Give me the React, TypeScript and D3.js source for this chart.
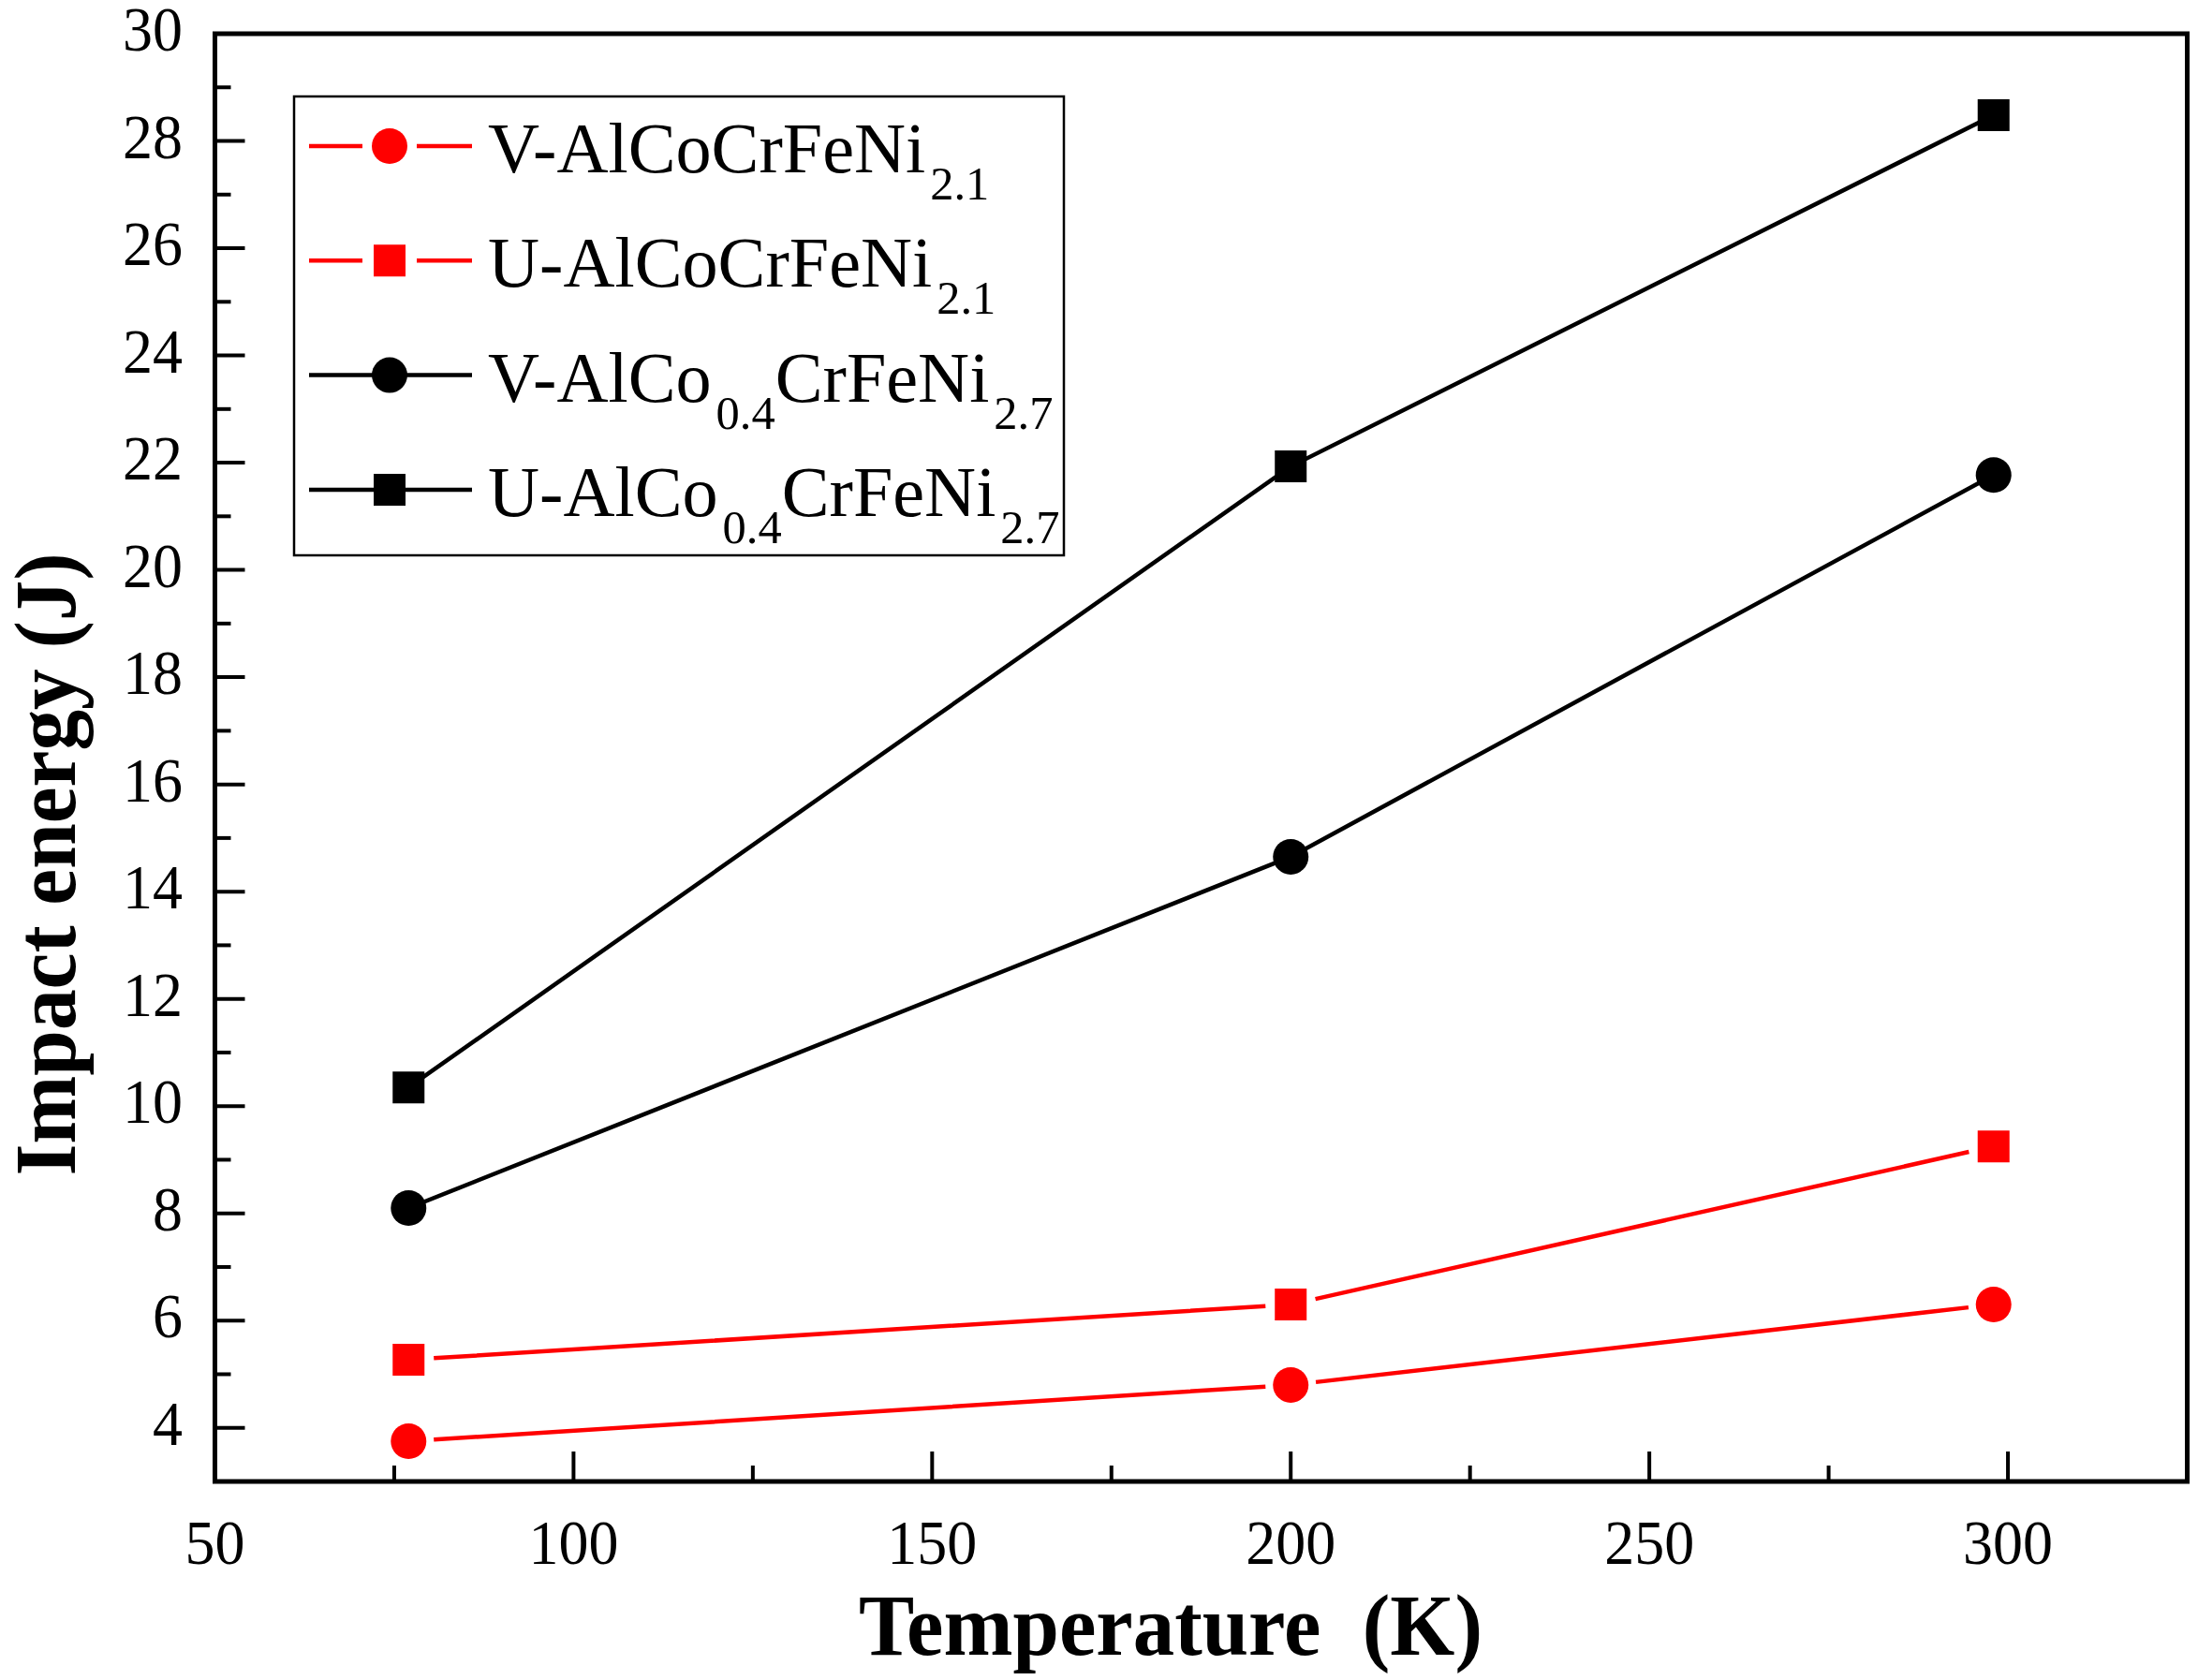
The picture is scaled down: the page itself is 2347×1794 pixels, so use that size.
import React from 'react';
import * as d3 from 'd3';

// ---------- data ----------
const temperatures = [77, 200, 298];
const vAlCoCrFeNi21 = [3.75, 4.8, 6.3];
const uAlCoCrFeNi21 = [5.27, 6.3, 9.25];
const vAlCo04CrFeNi27 = [8.1, 14.65, 21.77];
const uAlCo04CrFeNi27 = [10.35, 21.93, 28.48];

const xTickValues = [50, 100, 150, 200, 250, 300];
const xMinorTicks = [75, 125, 175, 225, 275];
const yTickValues = [4, 6, 8, 10, 12, 14, 16, 18, 20, 22, 24, 26, 28, 30];
const yMinorTicks = [5, 7, 9, 11, 13, 15, 17, 19, 21, 23, 25, 27, 29];

const xTitle = 'Temperature  (K)';
const yTitle = 'Impact energy (J)';

type Part = [string, boolean];
const labelV21: Part[] = [['V-AlCoCrFeNi', false], ['2.1', true]];
const labelU21: Part[] = [['U-AlCoCrFeNi', false], ['2.1', true]];
const labelV27: Part[] = [['V-AlCo', false], ['0.4', true], ['CrFeNi', false], ['2.7', true]];
const labelU27: Part[] = [['U-AlCo', false], ['0.4', true], ['CrFeNi', false], ['2.7', true]];

interface Series {
  values: number[];
  color: string;
  symbol: d3.SymbolType;
  size: number;
  gap: number;
  label: Part[];
}

const series: Series[] = [
  { values: vAlCoCrFeNi21, color: '#ff0000', symbol: d3.symbolCircle, size: 1134, gap: 27, label: labelV21 },
  { values: uAlCoCrFeNi21, color: '#ff0000', symbol: d3.symbolSquare, size: 1156, gap: 27, label: labelU21 },
  { values: vAlCo04CrFeNi27, color: '#000000', symbol: d3.symbolCircle, size: 1134, gap: 0, label: labelV27 },
  { values: uAlCo04CrFeNi27, color: '#000000', symbol: d3.symbolSquare, size: 1156, gap: 0, label: labelU27 },
];

// ---------- layout ----------
const W = 2347;
const H = 1794;
const FONT = '"Liberation Serif", "Times New Roman", Times, serif';

const x = d3.scaleLinear().domain([50, 325]).range([229.5, 2335.5]);
const y = d3.scaleLinear().domain([3, 30]).range([1582, 36]);

const MAJOR = 32;
const MINOR = 17;

function segmentsWithGap(pts: [number, number][], gap: number): string {
  let d = '';
  if (gap === 0) {
    return d3.line()(pts) || '';
  }
  for (let i = 0; i < pts.length - 1; i++) {
    const [x0, y0] = pts[i];
    const [x1, y1] = pts[i + 1];
    const len = Math.hypot(x1 - x0, y1 - y0);
    const ux = (x1 - x0) / len;
    const uy = (y1 - y0) / len;
    d += `M${x0 + ux * gap},${y0 + uy * gap}L${x1 - ux * gap},${y1 - uy * gap}`;
  }
  return d;
}

function Txt(props: {
  x: number; y: number; rot?: number; k: number; size: number; bold?: boolean;
  anchor?: 'start' | 'middle' | 'end'; children: React.ReactNode;
}) {
  const { x: tx, y: ty, rot = 0, k, size, bold, anchor = 'start', children } = props;
  return (
    <text
      transform={`translate(${tx},${ty}) rotate(${rot}) scale(${k},1)`}
      fontFamily={FONT}
      fontSize={size}
      fontWeight={bold ? 'bold' : 'normal'}
      textAnchor={anchor}
      fill="#000"
      style={{ whiteSpace: 'pre' }}
    >
      {children}
    </text>
  );
}

export default function App() {
  const legendX = 314;
  const legendY = 103;
  const legendW = 822;
  const legendH = 490;
  const rowY0 = 156;
  const rowStep = 122.3;
  const lineX0 = 330;
  const lineX1 = 504;
  const markX = 416;
  const textX = 521;
  const SUB = 29;

  return (
    <div style={{ position: 'absolute', left: 0, top: 0, width: W, height: H, background: '#fff' }}>
      <svg width={W} height={H} viewBox={`0 0 ${W} ${H}`}>
        <rect x={0} y={0} width={W} height={H} fill="#fff" />

        {/* ticks */}
        <g stroke="#000" strokeWidth={4}>
          {yTickValues.map((v) => (
            <line key={'ym' + v} x1={x(50)} x2={x(50) + MAJOR} y1={y(v)} y2={y(v)} />
          ))}
          {yMinorTicks.map((v) => (
            <line key={'yn' + v} x1={x(50)} x2={x(50) + MINOR} y1={y(v)} y2={y(v)} />
          ))}
          {xTickValues.map((v) => (
            <line key={'xm' + v} x1={x(v)} x2={x(v)} y1={y(3)} y2={y(3) - MAJOR} />
          ))}
          {xMinorTicks.map((v) => (
            <line key={'xn' + v} x1={x(v)} x2={x(v)} y1={y(3)} y2={y(3) - MINOR} />
          ))}
        </g>

        {/* frame */}
        <rect
          x={x(50)}
          y={y(30)}
          width={x(325) - x(50)}
          height={y(3) - y(30)}
          fill="none"
          stroke="#000"
          strokeWidth={5}
        />

        {/* tick labels */}
        {yTickValues.map((v) => (
          <Txt key={'yl' + v} x={195} y={y(v) + 18} k={0.955} size={67} anchor="end">
            {String(v)}
          </Txt>
        ))}
        {xTickValues.map((v) => (
          <Txt key={'xl' + v} x={x(v)} y={1670} k={0.955} size={67} anchor="middle">
            {String(v)}
          </Txt>
        ))}

        {/* axis titles */}
        <Txt x={1250} y={1767} k={0.955} size={93} bold anchor="middle">
          {xTitle}
        </Txt>
        <Txt x={80} y={923} rot={-90} k={0.94} size={93} bold anchor="middle">
          {yTitle}
        </Txt>

        {/* data */}
        {series.map((s, i) => {
          const pts: [number, number][] = s.values.map((v, j) => [x(temperatures[j]), y(v)]);
          return (
            <g key={'s' + i}>
              <path d={segmentsWithGap(pts, s.gap)} fill="none" stroke={s.color} strokeWidth={4.5} />
              {pts.map((p, j) => (
                <path
                  key={j}
                  d={d3.symbol().type(s.symbol).size(s.size)() || ''}
                  transform={`translate(${p[0]},${p[1]})`}
                  fill={s.color}
                />
              ))}
            </g>
          );
        })}

        {/* legend */}
        <rect x={legendX} y={legendY} width={legendW} height={legendH} fill="#fff" stroke="#000" strokeWidth={2.5} />
        {series.map((s, i) => {
          const ry = rowY0 + i * rowStep;
          const linePts: [number, number][] = [
            [lineX0, ry],
            [markX, ry],
            [lineX1, ry],
          ];
          let d = '';
          if (s.gap > 0) {
            d = `M${lineX0},${ry}L${markX - s.gap - 2},${ry}M${markX + s.gap + 2},${ry}L${lineX1},${ry}`;
          } else {
            d = d3.line()(linePts) || '';
          }
          return (
            <g key={'lg' + i}>
              <path d={d} stroke={s.color} strokeWidth={4.5} fill="none" />
              <path
                d={d3.symbol().type(s.symbol).size(s.size)() || ''}
                transform={`translate(${markX},${ry})`}
                fill={s.color}
              />
              <Txt x={textX} y={ry + 28} k={0.99} size={77}>
                {(() => {
                  let inSub = false;
                  return s.label.map(([t, sub], j) => {
                    let dy = 0;
                    let dx = 0;
                    if (sub && !inSub) { dy = SUB; dx = 5; }
                    if (!sub && inSub) { dy = -SUB; dx = 0; }
                    inSub = sub;
                    return (
                      <tspan key={j} dy={dy} dx={dx} fontSize={sub ? 51 : 77}>
                        {t}
                      </tspan>
                    );
                  });
                })()}
              </Txt>
            </g>
          );
        })}
      </svg>
    </div>
  );
}
